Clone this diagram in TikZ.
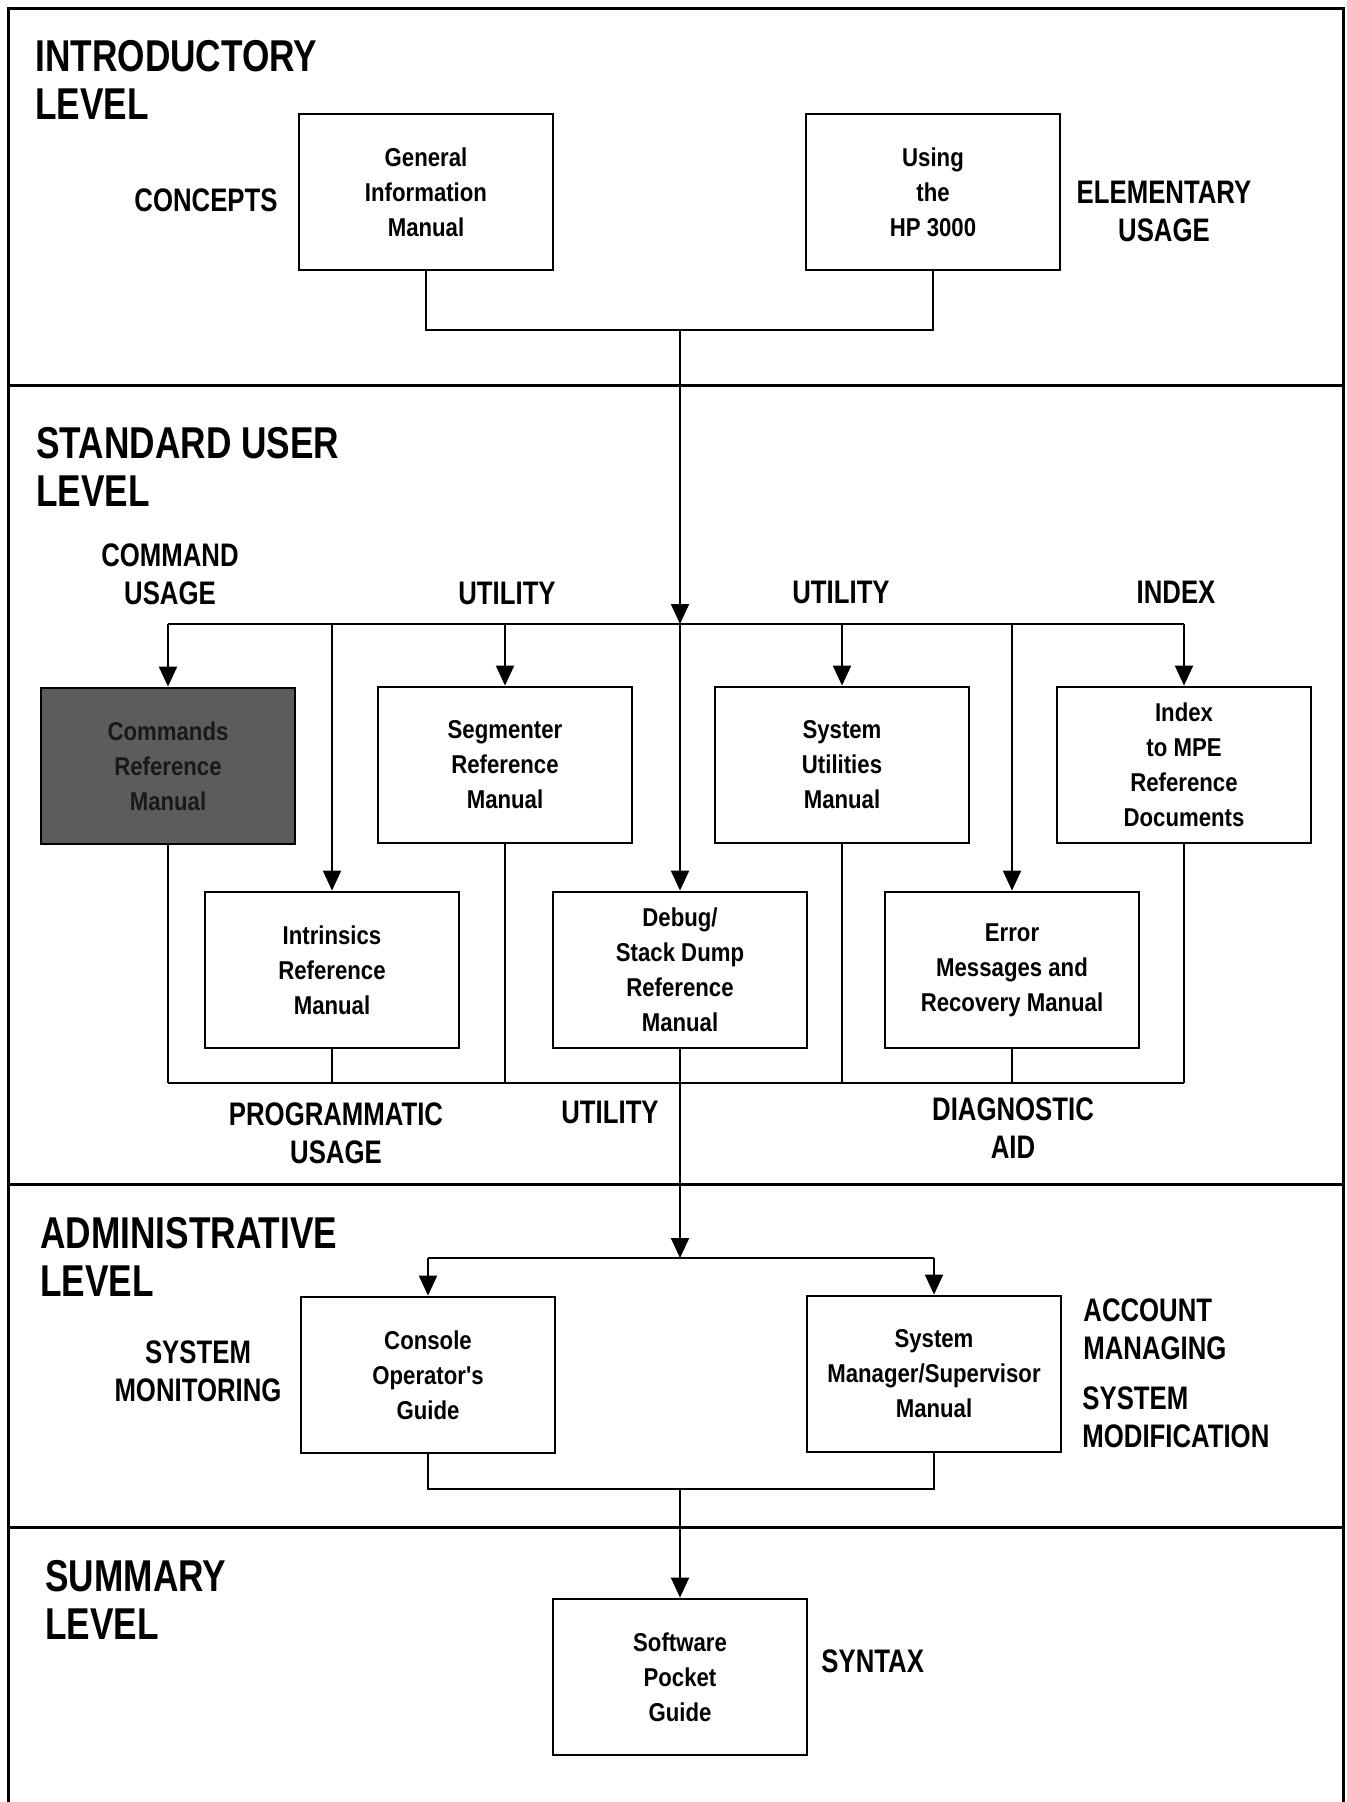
\documentclass[tikz,border=0pt]{standalone}
\usepackage{fontspec}
\usetikzlibrary{arrows.meta,calc}
\newfontfamily\headfont{Liberation Sans}[FakeStretch=0.79]
\newfontfamily\boxfont{Liberation Sans}[FakeStretch=0.86]

\tikzset{
  manual/.style={draw, line width=1.4pt, minimum width=127pt, minimum height=78pt,
    align=center, inner sep=0pt, font=\boxfont\bfseries\fontsize{12.9}{17.5}\selectfont},
  levelname/.style={anchor=west, align=left, inner sep=0pt,
    font=\headfont\bfseries\fontsize{22.3}{24}\selectfont},
  tag/.style={align=center, inner sep=0pt,
    font=\headfont\bfseries\fontsize{16.3}{19}\selectfont},
  link/.style={line width=1pt},
  arr/.style={link, -{Triangle[width=9pt,length=10pt]}},
  frameline/.style={line width=1.5pt},
}

\begin{document}
\begin{tikzpicture}[x=0.5pt,y=-0.5pt]
\useasboundingbox (0,0) rectangle (1346,1802);

% outer frame and level dividers
\draw[frameline] (8,1802) -- (8,9) -- (1343,9) -- (1343,1802);
\draw[frameline] (8,386) -- (1343,386);
\draw[frameline] (8,1184) -- (1343,1184);
\draw[frameline] (8,1527) -- (1343,1527);

% level titles
\node[levelname] (lv1) at (35,80) {INTRODUCTORY\\LEVEL};
\node[levelname] (lv2) at (36,467) {STANDARD USER\\LEVEL};
\node[levelname] (lv3) at (40,1257) {ADMINISTRATIVE\\LEVEL};
\node[levelname] (lv4) at (45,1600) {SUMMARY\\LEVEL};

% manuals
\node[manual] (gim) at (426,192) {General\\Information\\Manual};
\node[manual] (using) at (933,192) {Using\\the\\HP 3000};

\node[manual, fill=black!64, text=black!90] (cmd) at (168,766) {Commands\\Reference\\Manual};
\node[manual] (seg) at (505,765) {Segmenter\\Reference\\Manual};
\node[manual] (sys) at (842,765) {System\\Utilities\\Manual};
\node[manual] (idx) at (1184,765) {Index\\to MPE\\Reference\\Documents};
\node[manual] (intr) at (332,970) {Intrinsics\\Reference\\Manual};
\node[manual] (dbg) at (680,970) {Debug/\\Stack Dump\\Reference\\Manual};
\node[manual] (err) at (1012,970) {Error\\Messages and\\Recovery Manual};

\node[manual] (con) at (428,1375) {Console\\Operator's\\Guide};
\node[manual] (mgr) at (934,1374) {System\\Manager/Supervisor\\Manual};

\node[manual] (spg) at (680,1677) {Software\\Pocket\\Guide};

% usage tags
\node[tag] (tconc) at (206,200) {CONCEPTS};
\node[tag] (telem) at (1164,211) {ELEMENTARY\\USAGE};
\node[tag] (tcmd) at (170,574) {COMMAND\\USAGE};
\node[tag] (tut1) at (507,593) {UTILITY};
\node[tag] (tut2) at (841,592) {UTILITY};
\node[tag] (tidx) at (1176,592) {INDEX};
\node[tag] (tprog) at (336,1133) {PROGRAMMATIC\\USAGE};
\node[tag] (tut3) at (610,1112) {UTILITY};
\node[tag] (tdiag) at (1013,1128) {DIAGNOSTIC\\AID};
\node[tag] (tmon) at (198,1371) {SYSTEM\\MONITORING};
\node[tag, anchor=west, align=left] (tacct) at (1083,1329) {ACCOUNT\\MANAGING};
\node[tag, anchor=west, align=left] (tmod) at (1082,1417) {SYSTEM\\MODIFICATION};
\node[tag, anchor=west] (tsyn) at (821,1661) {SYNTAX};

% junction points
\coordinate (j1) at (680,330);
\coordinate (bus1) at (680,624);
\coordinate (bus2) at (680,1083);
\coordinate (bus3) at (680,1258);
\coordinate (j4) at (680,1489);

% introductory level into the standard user level
\draw[link] (gim.south) |- (j1) -| (using.south);
\draw[arr] (j1) -- (bus1);

% distribution bus to the standard user manuals
\draw[link] (cmd.north |- bus1) -- (idx.north |- bus1);
\foreach \m in {cmd,intr,seg,dbg,sys,err,idx}
  \draw[arr] (\m.north |- bus1) -- (\m.north);

% collection bus below the standard user manuals
\draw[link] (cmd.south |- bus2) -- (idx.south |- bus2);
\foreach \m in {cmd,intr,seg,dbg,sys,err,idx}
  \draw[link] (\m.south) -- (\m.south |- bus2);
\draw[arr] (bus2) -- (bus3);

% administrative level
\draw[link] (con.north |- bus3) -- (mgr.north |- bus3);
\draw[arr] (con.north |- bus3) -- (con.north);
\draw[arr] (mgr.north |- bus3) -- (mgr.north);
\draw[link] (con.south) |- (j4) -| (mgr.south);
\draw[arr] (j4) -- (spg.north);
\end{tikzpicture}
\end{document}
